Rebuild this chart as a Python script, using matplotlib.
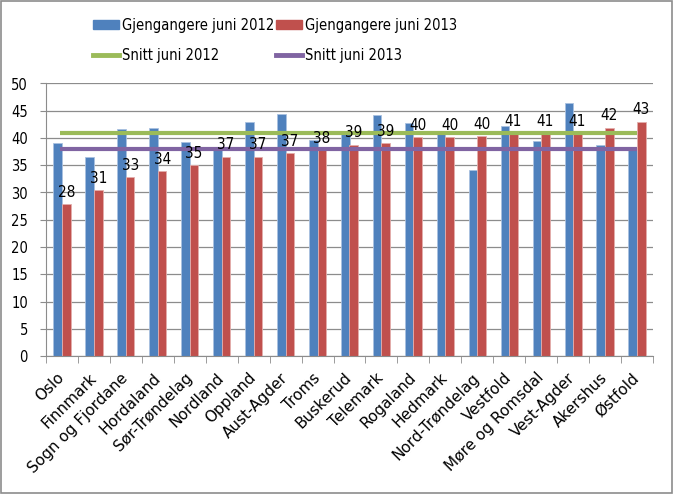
import matplotlib
matplotlib.use("Agg")
import matplotlib.pyplot as plt
from matplotlib.lines import Line2D
from matplotlib.patches import Patch
from matplotlib.font_manager import FontProperties
import numpy as np

categories = ["Oslo", "Finnmark", "Sogn og Fjordane", "Hordaland", "Sør-Trøndelag",
              "Nordland", "Oppland", "Aust-Agder", "Troms", "Buskerud", "Telemark",
              "Rogaland", "Hedmark", "Nord-Trøndelag", "Vestfold", "Møre og Romsdal",
              "Vest-Agder", "Akershus", "Østfold"]
juni_2012 = [39.0, 36.6, 41.6, 41.9, 39.2, 38.4, 43.0, 44.4, 39.7, 40.8, 44.3,
             42.8, 41.0, 34.2, 42.2, 39.4, 46.5, 38.8, 38.2]
juni_2013 = [27.8, 30.5, 32.9, 33.9, 35.0, 36.6, 36.6, 37.2, 37.8, 38.8, 39.0,
             40.1, 40.2, 40.4, 40.8, 40.9, 40.9, 41.9, 43.0]
labels_2013 = [28, 31, 33, 34, 35, 37, 37, 37, 38, 39, 39, 40, 40, 40, 41, 41, 41, 42, 43]
snitt_2012 = 41
snitt_2013 = 38

blue = "#4F81BD"
red = "#C0504D"
green = "#9BBB59"
purple = "#8064A2"

def fp(size, stretch="condensed"):
    return FontProperties(family="DejaVu Sans", stretch=stretch, size=size)

fig = plt.figure(figsize=(6.73, 4.94), dpi=100)
fig.patches.append(plt.Rectangle((0.002, 0.002), 0.996, 0.996, transform=fig.transFigure,
                                 fill=False, edgecolor="#8C8C8C", linewidth=1.2))
ax = fig.add_axes([46/673, 1-356/494, (653-46)/673, (356-83.5)/494])

x = np.arange(len(categories))
w = 0.27
ax.bar(x - w/2, juni_2012, width=w, color=blue, edgecolor="#A9C1E0", linewidth=0.6, zorder=2)
ax.bar(x + w/2, juni_2013, width=w, color=red, edgecolor="#E3AEAC", linewidth=0.6, zorder=2)
ax.plot([x[0] - 0.05, x[-1]], [snitt_2012]*2, color=green, lw=3, zorder=3, solid_capstyle="butt")
ax.plot([x[0] - 0.05, x[-1]], [snitt_2013]*2, color=purple, lw=3, zorder=3, solid_capstyle="butt")

for xi, v, lab in zip(x, juni_2013, labels_2013):
    ax.annotate(str(lab), (xi + w/2, v), xytext=(0, 3), textcoords="offset points",
                ha="center", va="bottom", fontproperties=fp(11), color="black", zorder=4)

ax.set_xlim(-0.5, len(categories) - 0.5)
ax.set_ylim(0, 50)
ax.set_yticks(range(0, 51, 5))
ax.tick_params(axis="y", length=4, color="#8C8C8C", pad=9)
for t in ax.get_yticklabels():
    t.set_fontproperties(fp(10.5))
ax.yaxis.grid(True, color="#8C8C8C", linewidth=0.9, zorder=0)
ax.set_axisbelow(True)

ax.set_xticks(x)
ax.set_xticklabels(categories, rotation=45, ha="right", va="center", rotation_mode="anchor")
for t in ax.get_xticklabels():
    t.set_fontproperties(fp(11, "normal"))
ax.tick_params(axis="x", length=0, pad=14)
ax.set_xticks(np.arange(-0.5, len(categories), 1), minor=True)
ax.tick_params(axis="x", which="minor", length=5, color="#8C8C8C")

for s in ["top", "right"]:
    ax.spines[s].set_visible(False)
ax.spines["left"].set_color("#8C8C8C")
ax.spines["bottom"].set_color("#8C8C8C")

handles = [Patch(color=blue), Line2D([], [], color=green, lw=3.5),
           Patch(color=red), Line2D([], [], color=purple, lw=3.5)]
leg_labels = ["Gjengangere juni 2012", "Snitt juni 2012",
              "Gjengangere juni 2013", "Snitt juni 2013"]
fig.legend(handles, leg_labels, ncol=2, loc="upper left",
           bbox_to_anchor=(93/673, 1-18/494), borderpad=0, borderaxespad=0,
           frameon=False, prop=fp(10.5), handlelength=1.8, handleheight=0.6,
           handletextpad=0.2, columnspacing=0.1, labelspacing=1.0)

fig.savefig("out.png", dpi=100)
